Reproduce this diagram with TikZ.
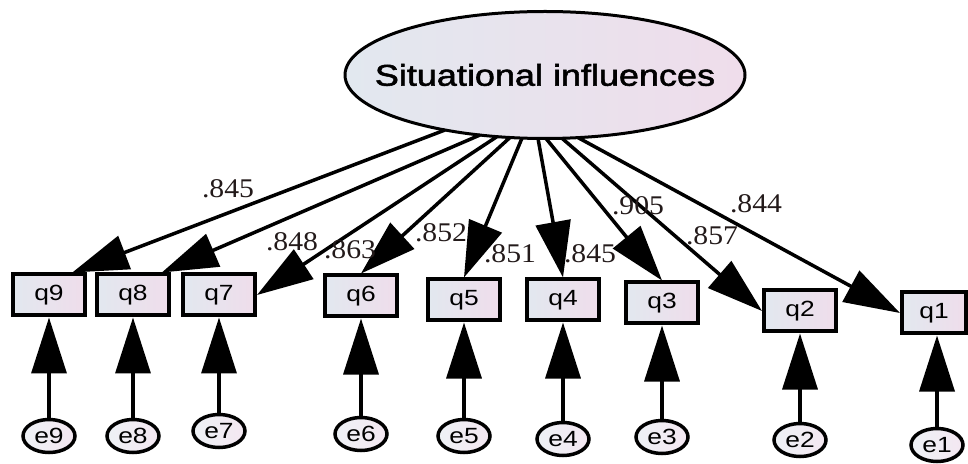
\documentclass[tikz,border=0pt]{standalone}
\usepackage{fontspec}
\usetikzlibrary{arrows.meta}
\newfontfamily\bigsans[FakeStretch=1.2,FakeBold=1.8]{Liberation Sans}
\newfontfamily\smallsans[FakeStretch=1.2]{Liberation Sans}
\newfontfamily\labserif[FakeStretch=1.1]{Liberation Serif}
\definecolor{fillA}{HTML}{E2E8EF}
\definecolor{fillB}{HTML}{EFDDEB}
\definecolor{labc}{HTML}{231A1A}
\tikzset{
  latentshape/.style={draw=black,line width=3pt,left color=fillA,right color=fillB},
  bigtext/.style={inner sep=0pt,font=\bigsans\fontsize{30}{36}\selectfont},
  obs/.style={rectangle,draw=black,line width=4pt,left color=fillA,right color=fillB,
    minimum width=72pt,minimum height=41pt,inner sep=0pt,
    font=\smallsans\fontsize{22}{26}\selectfont},
  errshape/.style={draw=black,line width=3.5pt,left color=fillA!60!white,right color=fillB!70!white},
  errtext/.style={inner sep=0pt,font=\smallsans\fontsize{22}{26}\selectfont},
  lab/.style={font=\labserif\fontsize{27}{30}\selectfont,text=labc,inner sep=0pt},
  arr/.style={line width=3.5pt,-{Triangle[length=56pt,width=35pt]}}
}
\begin{document}
\begin{tikzpicture}[x=1pt,y=1pt]
\useasboundingbox (0,0) rectangle (968,463);
% latent variable
\coordinate (Sc) at (545,463-75);
\path[latentshape] (Sc) ellipse [x radius=200pt, y radius=63.5pt];
\node[bigtext] (S) at (Sc) {Situational influences};
% start points on the ellipse border
\foreach \n/\px/\py in {9/445/130,8/480/135,7/497/136.6,6/510/137.5,5/522/138.1,4/538/138.5,3/546/138.5,2/562/138.3,1/578/137.6}{
  \coordinate (s\n) at (\px,463-\py);
}
% observed
\node[obs] (q9) at (49,463-295) {q9};
\node[obs] (q8) at (133,463-295) {q8};
\node[obs] (q7) at (219,463-295) {q7};
\node[obs] (q6) at (361,463-296) {q6};
\node[obs] (q5) at (464,463-300) {q5};
\node[obs] (q4) at (563,463-300) {q4};
\node[obs] (q3) at (662,463-303) {q3};
\node[obs] (q2) at (800,463-311) {q2};
\node[obs,minimum width=64pt] (q1) at (934,463-313) {q1};
% errors
\foreach \i/\px/\py in {9/49/436,8/133/436,7/219/431,6/361/434,5/464/436,4/563/439,3/662/437,2/800/440,1/937/445}{
  \path[errshape] (\px,463-\py) ellipse [x radius=26pt, y radius=16.5pt];
  \node[errtext] (e\i) at (\px,463-\py) {e\i};
  \coordinate (et\i) at (\px,463-\py+18.25);
}
% loadings
\draw[arr] (s9) -- (q9.44);
\draw[arr] (s8) -- (q8.38);
\draw[arr] (s7) -- (q7.east);
\draw[arr] (s6) -- (q6.north);
\draw[arr] (s5) -- (q5.north);
\draw[arr] (s4) -- (q4.north);
\draw[arr] (s3) -- (q3.north);
\draw[arr] (s2) -- (q2.west);
\draw[arr] (s1) -- (q1.west);
% error arrows
\foreach \i in {1,...,9}{
  \draw[arr] (et\i) -- (et\i |- q\i.south);
}
% labels
\node[lab] (l9) at (228,463-189) {.845};
\node[lab] (l8) at (292,463-242) {.848};
\node[lab] (l6) at (350,463-250) {.863};
\node[lab] (l5) at (441,463-233) {.852};
\node[lab] (l4) at (510,463-254) {.851};
\node[lab] (l3) at (590,463-254) {.845};
\node[lab] (l2) at (638,463-206) {.905};
\node[lab] (l1) at (712,463-236) {.857};
\node[lab] (l0) at (756,463-204) {.844};
\end{tikzpicture}
\end{document}
